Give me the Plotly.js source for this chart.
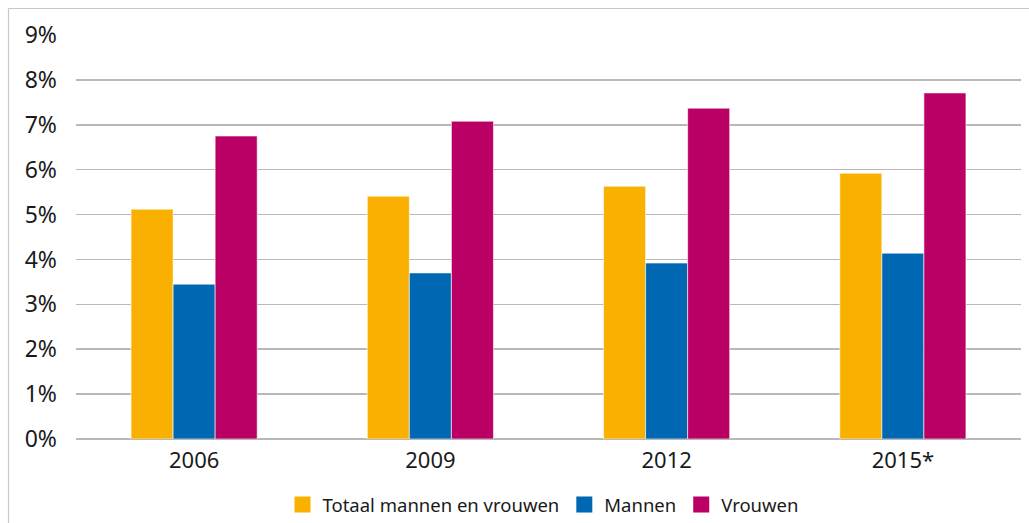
<!DOCTYPE html>
<html><head><meta charset="utf-8">
<script src="https://cdn.plot.ly/plotly-3.0.1.min.js"></script>
<style>html,body{margin:0;padding:0;background:#fff}#c{width:1029px;height:523px}</style>
</head><body><div id="c"></div>
<script>
const years = ['2006', '2009', '2012', '2015*'];
const totaal = [5.12, 5.41, 5.63, 5.92];
const mannen = [3.45, 3.70, 3.92, 4.14];
const vrouwen = [6.75, 7.08, 7.37, 7.71];
const seriesNames = ['Totaal mannen en vrouwen', 'Mannen', 'Vrouwen'];
const colors = ['#F9B000', '#0067B2', '#BA0065'];
const yTicks = [0,1,2,3,4,5,6,7,8,9];

const bars = [totaal, mannen, vrouwen].map((v, i) => ({
  type: 'bar', x: years, y: v, name: seriesNames[i], showlegend: false,
  marker: {color: colors[i], line: {color: '#ffffff', width: 0.6}},
  hoverinfo: 'skip'
}));
// legend entries with larger square swatches
const legendEntries = seriesNames.map((n, i) => ({
  type: 'scatter', mode: 'markers', x: [null], y: [null], name: n, showlegend: true,
  marker: {symbol: 'square', size: 16, color: colors[i]}, hoverinfo: 'skip'
}));

const W = 1029, H = 523, L = 76, R = 8, T = 35, B = 84;
const pw = W - L - R, ph = H - T - B;
const px2x = p => (p - L) / pw;
const py2y = p => (H - B - p) / ph;

const layout = {
  width: W, height: H,
  margin: {l: L, r: R, t: T, b: B, pad: 0, autoexpand: false},
  paper_bgcolor: '#fff', plot_bgcolor: '#fff',
  font: {family: '"Noto Sans", "Open Sans", sans-serif', color: '#1a1a1a'},
  barmode: 'group', bargap: 0.466, bargroupgap: 0,
  showlegend: true,
  legend: {orientation: 'h', xref: 'container', yref: 'container',
    x: 543 / W, xanchor: 'center', y: (H - 505) / H, yanchor: 'middle',
    font: {size: 18.5, color: '#1a1a1a'}, itemwidth: 30, traceorder: 'normal', itemsizing: 'trace'},
  xaxis: {type: 'category', categoryarray: years, showgrid: false, showline: false, zeroline: false,
    automargin: false, ticks: '', tickfont: {size: 22}, ticklabelstandoff: 6},
  yaxis: {range: [0, 9], tickvals: yTicks, ticktext: yTicks.map(v => v + '%'),
    automargin: false, showgrid: true, gridcolor: '#b8b8b8', gridwidth: 1.5, zeroline: true,
    zerolinecolor: '#b8b8b8', zerolinewidth: 1.5, showline: false, ticks: '',
    tickfont: {size: 23}, ticklabelstandoff: 18, fixedrange: true},
  shapes: [
    {type: 'line', xref: 'paper', yref: 'paper', x0: px2x(8.5), x1: px2x(1029), y0: py2y(8.5), y1: py2y(8.5),
     line: {color: '#c8c8c8', width: 1.2}},
    {type: 'line', xref: 'paper', yref: 'paper', x0: px2x(8.5), x1: px2x(8.5), y0: py2y(8.5), y1: py2y(523),
     line: {color: '#c8c8c8', width: 1.2}}
  ]
};
Plotly.newPlot('c', bars.concat(legendEntries), layout, {staticPlot: true, displayModeBar: false});
</script></body></html>
